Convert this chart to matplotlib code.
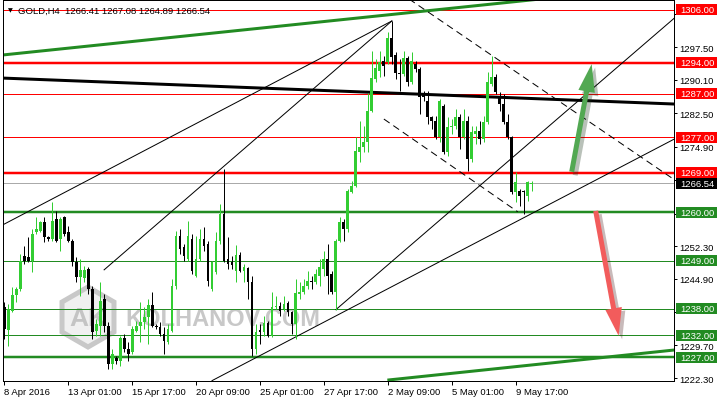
import matplotlib
matplotlib.use('Agg')
import matplotlib.pyplot as plt
import matplotlib.patheffects as pe
import matplotlib.transforms as mtrans
from matplotlib.patches import FancyArrowPatch, RegularPolygon, Rectangle
import numpy as np

plt.rcParams['font.family'] = ['Liberation Sans', 'DejaVu Sans']

# GOLD H4 candles, 8 Apr 2016 09:00 .. 10 May 2016 09:00
opens = [1238.39, 1233.30, 1237.62, 1241.20, 1242.55, 1250.13, 1249.83, 1248.99, 1255.45, 1255.81,
         1257.79, 1254.38, 1253.92, 1258.47, 1253.92, 1258.93, 1255.45, 1253.54, 1248.63, 1245.21,
         1244.99, 1247.10, 1242.55, 1233.07, 1234.21, 1240.28, 1234.21, 1225.50, 1226.86, 1226.25,
         1231.34, 1228.91, 1228.16, 1233.07, 1234.21, 1234.98, 1236.12, 1238.92, 1234.21, 1233.84,
         1232.32, 1230.43, 1233.07, 1243.30, 1254.67, 1252.04, 1249.38, 1253.92, 1245.58, 1249.38,
         1253.92, 1252.79, 1242.55, 1246.35, 1253.54, 1259.61, 1249.38, 1248.63, 1246.72, 1250.29,
         1246.72, 1247.26, 1244.08, 1228.91, 1233.23, 1232.71, 1234.82, 1231.93, 1238.39, 1238.76,
         1238.01, 1239.30, 1237.26, 1234.59, 1241.42, 1241.80, 1243.30, 1244.44, 1244.21, 1245.58,
         1247.10, 1249.38, 1245.96, 1241.80, 1253.54, 1257.72, 1256.20, 1264.68, 1266.04, 1273.64,
         1274.78, 1275.91, 1283.10, 1290.31, 1292.20, 1294.47, 1294.11, 1299.56, 1295.77, 1291.67,
         1291.44, 1295.02, 1289.56, 1293.72, 1292.58, 1286.90, 1285.37, 1281.60, 1280.83, 1277.05,
         1284.24, 1273.64, 1279.32, 1279.55, 1281.60, 1277.05, 1280.83, 1272.12, 1277.80, 1278.55,
         1276.66, 1280.46, 1289.17, 1290.69, 1286.51, 1284.62, 1280.46, 1277.05, 1264.54, 1264.91,
         1264.91, 1263.77, 1266.41]
highs = [1239.60, 1239.14, 1243.01, 1243.01, 1250.51, 1252.40, 1254.38, 1256.20, 1258.93, 1258.08,
         1258.93, 1254.68, 1262.34, 1260.36, 1258.93, 1259.22, 1256.95, 1253.92, 1249.76, 1249.38,
         1247.78, 1247.56, 1243.30, 1235.73, 1244.08, 1241.42, 1234.98, 1228.91, 1227.39, 1231.93,
         1232.32, 1230.50, 1234.21, 1235.35, 1239.53, 1238.46, 1240.28, 1241.80, 1234.59, 1234.98,
         1233.84, 1234.59, 1244.83, 1255.81, 1256.20, 1252.79, 1258.08, 1255.06, 1254.67, 1256.20,
         1256.58, 1253.54, 1248.99, 1255.45, 1261.88, 1269.84, 1254.31, 1250.13, 1252.56, 1251.04,
         1248.24, 1247.49, 1245.58, 1234.59, 1234.59, 1236.48, 1235.35, 1241.80, 1241.03, 1239.53,
         1241.03, 1239.89, 1237.62, 1244.83, 1244.08, 1244.83, 1246.72, 1245.58, 1247.10, 1249.38,
         1251.26, 1252.79, 1246.72, 1253.92, 1258.86, 1258.47, 1265.29, 1267.11, 1277.05, 1280.83,
         1279.69, 1287.06, 1296.74, 1294.86, 1296.74, 1295.61, 1300.93, 1303.57, 1296.38, 1294.86,
         1296.74, 1295.61, 1296.38, 1294.47, 1292.97, 1287.65, 1287.65, 1281.96, 1281.96, 1285.76,
         1284.62, 1281.60, 1281.21, 1283.49, 1282.35, 1283.49, 1281.96, 1279.69, 1279.69, 1280.83,
         1281.96, 1291.90, 1295.61, 1291.44, 1287.28, 1286.90, 1282.35, 1277.41, 1269.09, 1265.29,
         1265.13, 1267.18, 1267.08]
lows = [1231.18, 1229.66, 1237.32, 1239.60, 1242.10, 1248.24, 1248.69, 1246.42, 1255.06, 1255.52,
        1253.24, 1253.54, 1253.54, 1253.17, 1251.26, 1254.67, 1253.17, 1247.85, 1244.08, 1241.03,
        1244.15, 1241.42, 1231.18, 1231.93, 1231.93, 1232.71, 1224.36, 1224.36, 1225.50, 1225.11,
        1228.16, 1226.25, 1227.77, 1232.71, 1230.43, 1233.46, 1230.05, 1233.84, 1233.46, 1231.93,
        1227.77, 1230.05, 1232.71, 1242.55, 1250.51, 1248.99, 1248.99, 1245.96, 1245.21, 1248.99,
        1251.26, 1243.30, 1242.17, 1245.96, 1252.79, 1248.63, 1247.10, 1247.10, 1244.08, 1246.35,
        1244.08, 1240.28, 1227.39, 1227.77, 1230.05, 1231.93, 1231.57, 1231.57, 1238.01, 1236.48,
        1237.62, 1236.48, 1232.32, 1231.18, 1240.28, 1241.42, 1242.55, 1242.55, 1243.69, 1243.30,
        1245.58, 1241.42, 1241.42, 1237.85, 1253.17, 1253.54, 1255.45, 1264.38, 1265.68, 1271.37,
        1273.64, 1273.64, 1282.74, 1289.56, 1290.69, 1291.06, 1293.72, 1293.72, 1290.31, 1287.65,
        1291.06, 1288.78, 1289.17, 1291.90, 1282.35, 1285.37, 1280.07, 1278.94, 1276.66, 1275.91,
        1273.25, 1272.87, 1277.80, 1278.94, 1274.39, 1276.66, 1269.46, 1271.37, 1275.53, 1275.53,
        1275.91, 1280.07, 1288.78, 1286.90, 1283.10, 1280.07, 1276.66, 1264.16, 1262.27, 1261.50,
        1259.61, 1262.63, 1264.89]
closes = [1233.46, 1238.01, 1241.19, 1242.55, 1248.99, 1248.99, 1248.92, 1255.06, 1256.20, 1257.79,
          1254.38, 1253.92, 1258.08, 1253.54, 1258.47, 1255.06, 1253.54, 1248.63, 1245.21, 1246.94,
          1246.94, 1242.55, 1232.71, 1234.59, 1239.89, 1234.21, 1225.50, 1227.77, 1226.25, 1231.34,
          1228.91, 1227.77, 1233.46, 1234.21, 1234.98, 1236.12, 1238.92, 1234.21, 1233.84, 1232.32,
          1230.80, 1233.46, 1243.30, 1254.67, 1251.65, 1250.13, 1254.67, 1246.72, 1249.38, 1253.92,
          1252.40, 1244.44, 1248.63, 1253.54, 1259.61, 1248.99, 1248.24, 1248.01, 1250.29, 1246.72,
          1247.49, 1244.08, 1228.91, 1232.71, 1232.71, 1234.82, 1231.93, 1238.53, 1238.76, 1237.62,
          1239.14, 1237.26, 1234.59, 1241.57, 1241.94, 1243.30, 1244.44, 1244.08, 1245.96, 1247.49,
          1249.38, 1245.58, 1241.80, 1253.54, 1257.72, 1256.20, 1264.91, 1266.04, 1274.00, 1274.78,
          1276.05, 1283.10, 1290.54, 1292.81, 1294.11, 1293.33, 1299.56, 1295.24, 1291.67, 1291.44,
          1295.02, 1289.56, 1294.47, 1292.58, 1286.15, 1286.15, 1281.60, 1280.83, 1277.05, 1285.37,
          1273.64, 1279.32, 1279.69, 1281.60, 1277.05, 1280.69, 1272.12, 1278.19, 1278.55, 1276.66,
          1280.46, 1289.56, 1290.69, 1287.28, 1284.62, 1280.46, 1277.05, 1264.54, 1266.82, 1263.77,
          1264.54, 1266.82, 1266.54]

x_ticks = [0, 16, 32, 48, 64, 80, 96, 112, 128]
x_labels = ['8 Apr 2016', '13 Apr 01:00', '15 Apr 17:00', '20 Apr 09:00', '25 Apr 01:00',
            '27 Apr 17:00', '2 May 09:00', '5 May 01:00', '9 May 17:00']
y_ticks = [1222.30, 1229.70, 1237.30, 1244.90, 1252.30, 1259.70, 1267.30,
           1274.90, 1282.50, 1290.10, 1297.50, 1305.10]
# these scale labels sit under the level boxes on the chart
y_hidden = [1237.30, 1259.70, 1267.30, 1305.10]

resistance = [1306.0, 1294.0, 1287.0, 1277.0, 1269.0]
resistance_bold = [False, True, False, False, True]
support = [1260.0, 1249.0, 1238.0, 1232.0, 1227.0]
support_bold = [True, False, False, False, True]
last_price = 1266.54
title = 'GOLD,H4  1266.41 1267.08 1264.89 1266.54'

# drawn objects as (bar, price) pairs
green_channel = [[(0, 1295.8), (168, 1311.7)], [(96.25, 1221.86), (168, 1228.7)]]
black_level = [(0, 1290.5), (168, 1284.6)]
trend_lines = [[(0, 1257.3), (97, 1303.5)], [(25, 1246.9), (97, 1303.5)],
               [(52, 1221.7), (168, 1276.8)], [(83, 1237.85), (168, 1304.4)]]
dashed_lines = [[(100, 1309.3), (168, 1267.2)], [(95, 1281.2), (128.5, 1260.1)]]
arrow_up = [(142, 1269.2), (147, 1293.7)]
arrow_down = [(148, 1260.3), (153.75, 1231.9)]

W, H = 717, 402
px = 0.72  # points per pixel at dpi 100
red = '#ff0000'
green = '#228b22'
bull_col = '#32cd32'

fig = plt.figure(figsize=(W / 100, H / 100), dpi=100)
ax = fig.add_axes([3 / W, 20 / H, 671 / W, 381 / H])
ax.set_xlim(-0.3, 167.6)
ax.set_ylim(1221.62, 1308.27)

# watermark
ident = mtrans.IdentityTransform()
ax.add_patch(RegularPolygon((88, 84), numVertices=6, radius=30, orientation=0, transform=ident,
                            fc='#f0f0f0', ec='#c8c8c8', lw=5 * px, zorder=0.5, clip_on=False))
ax.text(88, 83, 'AK', transform=ident, fontsize=19, fontweight='bold', color='#c4c4c4',
        ha='center', va='center', zorder=0.6)
ax.text(125, 82, 'KOLHANOV.COM', transform=ident, fontsize=17, fontweight='bold',
        color='#c8c8c8', ha='left', va='center', zorder=0.6)

# levels
for p, b in zip(resistance, resistance_bold):
    ax.axhline(p, color=red, lw=(2.5 if b else 1) * px, zorder=2)
for p, b in zip(support, support_bold):
    ax.axhline(p, color=green, lw=(2.5 if b else 1) * px, zorder=2)
ax.axhline(last_price, color='#aaaaaa', lw=1 * px, zorder=1.5)

for seg in green_channel:
    (x0, y0), (x1, y1) = seg
    ax.plot([x0, x1], [y0, y1], color=green, lw=3 * px, zorder=2.2)
(x0, y0), (x1, y1) = black_level
ax.plot([x0, x1], [y0, y1], color='black', lw=3 * px, zorder=2.2)
for seg in trend_lines:
    (x0, y0), (x1, y1) = seg
    ax.plot([x0, x1], [y0, y1], color='black', lw=1 * px, zorder=2.3)
for seg in dashed_lines:
    (x0, y0), (x1, y1) = seg
    ax.plot([x0, x1], [y0, y1], color='black', lw=1 * px, ls=(0, (7, 4.5)), zorder=2.3)

# candles
o = np.array(opens)
c = np.array(closes)
hi = np.array(highs)
lo = np.array(lows)
idx = np.arange(len(o))
bull = c >= o
ax.vlines(idx[bull], lo[bull], hi[bull], color=bull_col, lw=1 * px, zorder=3)
ax.vlines(idx[~bull], lo[~bull], hi[~bull], color='black', lw=1 * px, zorder=3)
body = np.maximum(np.abs(c - o), 0.25)
ax.bar(idx, body, bottom=np.minimum(o, c), width=0.72,
       color=np.where(bull, bull_col, 'black'), linewidth=0, zorder=4)

# arrows
for (a, b), col in [(arrow_up, '#52a852'), (arrow_down, '#f25c5c')]:
    arr = FancyArrowPatch(a, b, arrowstyle='simple,head_length=20,head_width=12,tail_width=3.6',
                          mutation_scale=1, color=col, lw=0, shrinkA=0, shrinkB=0, zorder=6,
                          path_effects=[pe.SimplePatchShadow(offset=(2.5, -2.5), alpha=0.3), pe.Normal()])
    ax.add_patch(arr)

# axes styling
for s in ax.spines.values():
    s.set_linewidth(1 * px)
    s.set_color('black')
ax.yaxis.tick_right()
ax.set_yticks(y_ticks)
ax.set_yticklabels(['' if v in y_hidden else f'{v:.2f}' for v in y_ticks])
ax.set_xticks(x_ticks)
ax.set_xticklabels(x_labels)
for lab in ax.get_xticklabels():
    lab.set_ha('left')
ax.tick_params(axis='y', direction='out', length=3 * px, width=1 * px, pad=2, labelsize=6.8)
ax.tick_params(axis='x', direction='out', length=4 * px, width=1 * px, pad=1.5, labelsize=6.8)

# price boxes on the right scale
box_tr = mtrans.blended_transform_factory(ax.transAxes, ax.transData)


def price_box(price, fc):
    ax.add_patch(Rectangle((1 + 2 / 671, price - 1.25), 45 / 671, 2.5, transform=box_tr,
                           fc=fc, ec='none', clip_on=False, zorder=10))
    ax.text(1 + 6 / 671, price, f'{price:.2f}', transform=box_tr, color='white', fontsize=6.8,
            ha='left', va='center', zorder=11, clip_on=False)


for p in resistance:
    price_box(p, red)
for p in support:
    price_box(p, green)
price_box(last_price, 'black')

fig.text(8 / W, 1 - 11 / H, '\u25bc', fontsize=4.5, family='DejaVu Sans', ha='left', va='center')
fig.text(18 / W, 1 - 11 / H, title, fontsize=6.8, ha='left', va='center')

fig.savefig('out.png', dpi=100)
